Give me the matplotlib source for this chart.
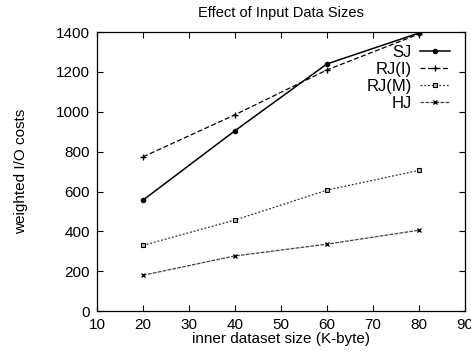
import matplotlib
matplotlib.use("Agg")
import matplotlib.pyplot as plt

plt.rcParams['font.family'] = ['Liberation Sans', 'DejaVu Sans']

sizes = [20, 40, 60, 80]
sj = [557, 905, 1240, 1395]
rj_i = [774, 985, 1210, 1390]
rj_m = [330, 457, 607, 706]
hj = [180, 277, 336, 406]

fig = plt.figure(figsize=(4.71, 3.56), dpi=100)
ax = fig.add_axes([0.206, 0.126, 0.781, 0.784])

ax.plot(sizes, sj, color='black', lw=1.1, ls='-', marker='o', ms=3, label='SJ')
ax.plot(sizes, rj_i, color='black', lw=0.9, ls=(0, (4, 2)), marker='+', ms=4, label='RJ(I)')
ax.plot(sizes, rj_m, color='#333333', lw=0.9, ls=(0, (1.5, 1.5)), marker='s', ms=3.5,
        mfc='#bbbbbb', mec='black', mew=0.8, label='RJ(M)')
ax.plot(sizes, hj, color='#444444', lw=0.9, ls=(0, (3, 1)), marker='x', ms=3.5,
        mec='black', label='HJ')

ax.set_xlim(10, 90)
ax.set_ylim(0, 1400)
ax.set_xticks(range(10, 91, 10))
ax.set_yticks(range(0, 1401, 200))
ax.tick_params(direction='in', top=True, right=True, labelsize=11, length=4, pad=5)
for s in ax.spines.values():
    s.set_linewidth(0.9)

ax.set_title('Effect of Input Data Sizes', fontsize=10.5, pad=11)
ax.set_xlabel('inner dataset size (K-byte)', fontsize=11, labelpad=0)
ax.set_ylabel('weighted I/O costs', fontsize=11, labelpad=20)

leg = ax.legend(loc='upper right', bbox_to_anchor=(0.96, 0.955), frameon=False,
                markerfirst=False, fontsize=12, handlelength=1.8,
                labelspacing=0.12, handletextpad=0.5, borderpad=0, borderaxespad=0)
for t in leg.get_texts():
    t.set_ha('right')

fig.savefig('out.png', dpi=100)
